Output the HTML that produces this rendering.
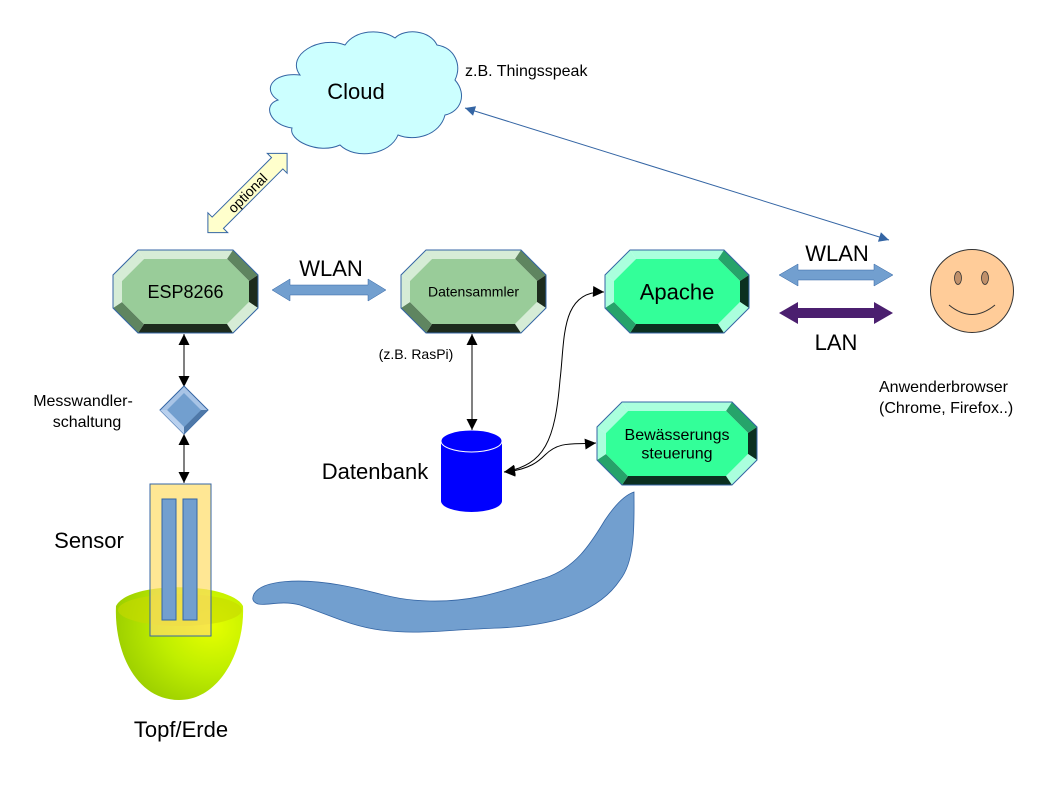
<!DOCTYPE html>
<html><head><meta charset="utf-8">
<style>
html,body{margin:0;padding:0;background:#fff;}
svg{display:block;font-family:"Liberation Sans",sans-serif;}
</style></head>
<body>
<svg id="s" width="1058" height="794" viewBox="0 0 1058 794" xmlns="http://www.w3.org/2000/svg">
<defs>
<marker id="ab" viewBox="0 0 10 10" refX="10" refY="5" markerWidth="12" markerHeight="11" markerUnits="userSpaceOnUse" orient="auto-start-reverse"><path d="M0,0 L10,5 L0,10 z" fill="#000"/></marker>
<marker id="ablue" viewBox="0 0 10 10" refX="10" refY="5" markerWidth="14" markerHeight="10" markerUnits="userSpaceOnUse" orient="auto-start-reverse"><path d="M0,0 L10,5 L0,10 z" fill="#3465a4"/></marker>
<radialGradient id="bowl" cx="0.75" cy="0.35" r="0.8"><stop offset="0" stop-color="#e6ff00"/><stop offset="0.5" stop-color="#bfee00"/><stop offset="1" stop-color="#99cc00"/></radialGradient>
</defs>
<g id="oct"></g>

<path d="M300,75 C285,55 320,35 345,45 C355,30 380,28 395,38 C405,28 430,30 437,45 C455,48 462,65 455,80 C468,95 460,112 445,115 C440,135 415,142 398,135 C390,155 355,160 340,145 C318,155 288,140 292,128 C270,125 262,105 278,100 C262,90 272,72 300,75 Z" fill="#ccffff" stroke="#3465a4" stroke-width="1"/>
<text x="356" y="99" font-size="22" text-anchor="middle">Cloud</text>
<text x="465" y="76" font-size="16">z.B. Thingsspeak</text>

<g transform="translate(247.5,193) rotate(-45)">
<polygon points="-56,0 -42,-14 -42,-8 42,-8 42,-14 56,0 42,14 42,8 -42,8 -42,14" fill="#ffffcc" stroke="#3465a4" stroke-width="1"/>
<text x="0" y="5" font-size="14" text-anchor="middle">optional</text>
</g>

<line x1="465" y1="108" x2="889" y2="240" stroke="#3465a4" stroke-width="1" marker-start="url(#ablue)" marker-end="url(#ablue)"/>

<polygon points="272,290 290,279 290,285 368,285 368,279 386,290 368,301 368,295 290,295 290,301" fill="#729fcf" stroke="#3465a4" stroke-width="0.5"/>
<text x="331" y="276" font-size="22" text-anchor="middle">WLAN</text>
<polygon points="779,275 798,264 798,270 874,270 874,264 893,275 874,286 874,280 798,280 798,286" fill="#729fcf" stroke="#3465a4" stroke-width="0.5"/>
<polygon points="779,313 798,302 798,308 874,308 874,302 893,313 874,324 874,318 798,318 798,324" fill="#4b1f6f"/>
<text x="837" y="261" font-size="22" text-anchor="middle">WLAN</text>
<text x="836" y="350" font-size="22" text-anchor="middle">LAN</text>

<circle cx="972" cy="291" r="41.5" fill="#ffcc99" stroke="#333" stroke-width="1"/>
<ellipse cx="958" cy="278" rx="3.5" ry="6.5" fill="#c0906a" stroke="#333" stroke-width="0.8"/>
<ellipse cx="985" cy="278" rx="3.5" ry="6.5" fill="#c0906a" stroke="#333" stroke-width="0.8"/>
<path d="M949,305 Q972,324 995,305" fill="none" stroke="#333" stroke-width="1"/>
<text x="879" y="392" font-size="16">Anwenderbrowser</text>
<text x="879" y="413" font-size="16">(Chrome, Firefox..)</text>

<line x1="184" y1="334" x2="184" y2="387" stroke="#000" stroke-width="1" marker-start="url(#ab)" marker-end="url(#ab)"/>
<line x1="184" y1="434" x2="184" y2="483" stroke="#000" stroke-width="1" marker-start="url(#ab)" marker-end="url(#ab)"/>
<polygon points="184,386 208,410 184,434 160,410" fill="#a8c4e6" stroke="#3465a4" stroke-width="1"/>
<polygon points="184,393 201,410 184,427 167,410" fill="#729fcf"/>
<polygon points="201,410 208,410 184,434 184,427" fill="#4e78a8"/>
<polygon points="184,427 184,434 160,410 167,410" fill="#b8d0ee"/>
<text x="83" y="406" font-size="16" text-anchor="middle">Messwandler-</text>
<text x="87" y="427" font-size="16" text-anchor="middle">schaltung</text>

<path d="M116,606 C130,580 230,582 243,606 C245,650 220,700 179,700 C135,700 114,650 116,606 Z" fill="url(#bowl)"/>
<ellipse cx="180" cy="610" rx="62" ry="16" fill="#c8d800" opacity="0.6"/>
<text x="181" y="737" font-size="22" text-anchor="middle">Topf/Erde</text>
<rect x="150" y="484" width="61" height="152" fill="#ffdd66" fill-opacity="0.7" stroke="#3465a4" stroke-width="1"/>
<rect x="162" y="499" width="14" height="121" fill="#729fcf" stroke="#3465a4" stroke-width="1"/>
<rect x="183" y="499" width="14" height="121" fill="#729fcf" stroke="#3465a4" stroke-width="1"/>
<text x="89" y="548" font-size="22" text-anchor="middle">Sensor</text>

<path d="M254,594 C262,580 300,578 340,585 C380,592 390,600 430,601 C480,602 510,588 545,578 C575,568 590,545 605,520 C615,505 625,495 634,492 C634,520 636,560 620,580 C600,610 560,625 500,628 C440,630 420,635 380,630 C350,626 330,615 300,605 C280,600 268,606 258,604 C252,602 252,598 254,594 Z" fill="#729fcf" stroke="#3465a4" stroke-width="0.8"/>

<path d="M441,441 L441,501 A30.5,11 0 0 0 502,501 L502,441 Z" fill="#0000ff"/>
<ellipse cx="471.5" cy="441" rx="30.5" ry="11" fill="#0000ff" stroke="#ffffff" stroke-width="1"/>
<text x="375" y="479" font-size="22" text-anchor="middle">Datenbank</text>
<line x1="472" y1="334" x2="472" y2="430" stroke="#000" stroke-width="1" marker-start="url(#ab)" marker-end="url(#ab)"/>
<text x="416" y="359" font-size="14" text-anchor="middle">(z.B. RasPi)</text>

<path d="M604,292 C560,290 565,340 560,380 C555,440 545,465 504,472" fill="none" stroke="#000" stroke-width="1" marker-start="url(#ab)" marker-end="url(#ab)"/>
<path d="M504,472 C530,470 540,460 545,455 C560,440 575,445 596,443" fill="none" stroke="#000" stroke-width="1" marker-end="url(#ab)" marker-start="url(#ab)"/>
</svg>
<script>
(function(){
var g=document.getElementById('oct');var NS='http://www.w3.org/2000/svg';
function poly(pts,fill){var p=document.createElementNS(NS,'polygon');p.setAttribute('points',pts.map(function(a){return a.join(',')}).join(' '));p.setAttribute('fill',fill);g.appendChild(p);return p;}
function oct(x0,y0,x1,y1,c,b,cols,lines,fs){
 var O=[[x0+c,y0],[x1-c,y0],[x1,y0+c],[x1,y1-c],[x1-c,y1],[x0+c,y1],[x0,y1-c],[x0,y0+c]];
 var ci=c-3;var X0=x0+b,Y0=y0+b,X1=x1-b,Y1=y1-b;
 var I=[[X0+ci,Y0],[X1-ci,Y0],[X1,Y0+ci],[X1,Y1-ci],[X1-ci,Y1],[X0+ci,Y1],[X0,Y1-ci],[X0,Y0+ci]];
 var fc=[cols.l,cols.m,cols.d,cols.l,cols.d,cols.m,cols.l,cols.l];
 for(var i=0;i<8;i++){var j=(i+1)%8;poly([O[i],O[j],I[j],I[i]],fc[i]);}
 poly(I,cols.c);
 var o=poly(O,'none');o.setAttribute('stroke','#3465a4');o.setAttribute('stroke-width','1');
 var cy=(y0+y1)/2, n=lines.length;
 for(var k=0;k<n;k++){var t=document.createElementNS(NS,'text');t.setAttribute('x',(x0+x1)/2);t.setAttribute('y',cy+fs*0.36+(k-(n-1)/2)*fs*1.15);t.setAttribute('font-size',fs);t.setAttribute('text-anchor','middle');t.textContent=lines[k];g.appendChild(t);}
}
var G={l:'#d6ecd6',m:'#5f8560',d:'#1d2b1d',c:'#99cc99'};
var A={l:'#aaffdd',m:'#26a36a',d:'#0b3020',c:'#33ff99'};
oct(113,250,258,333,25,9,G,['ESP8266'],18);
oct(401,250,546,333,25,9,G,['Datensammler'],14);
oct(605,250,749,333,25,9,A,['Apache'],22);
oct(597,402,757,485,25,9,A,['Bewässerungs','steuerung'],16);
})();
</script>
</body></html>
